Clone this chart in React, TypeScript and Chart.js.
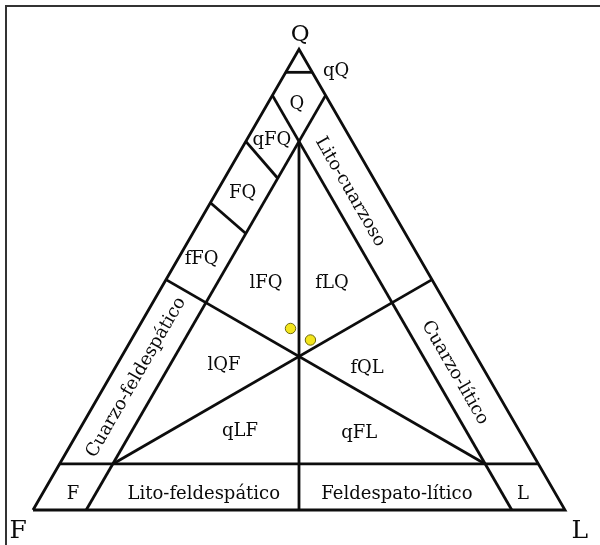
import React, { useEffect, useRef } from "react";
import { Chart, registerables } from "chart.js";

Chart.register(...registerables);

// Ternary composition points are [Q, F, L] in percent.
const triangleVertices: number[][] = [
  [0, 100, 0],
  [0, 0, 100],
  [100, 0, 0],
  [0, 100, 0],
];

const boundarySegments: number[][][] = [
  [[95, 5, 0], [95, 0, 5]], // qQ limit
  [[90, 10, 0], [0, 10, 90]], // F = 10 %
  [[90, 0, 10], [0, 90, 10]], // L = 10 %
  [[10, 90, 0], [10, 0, 90]], // Q = 10 %
  [[80, 10, 10], [0, 50, 50]], // F = L
  [[10, 80, 10], [50, 0, 50]], // Q = L
  [[10, 10, 80], [50, 50, 0]], // Q = F
  [[80, 20, 0], [72, 18, 10]], // Q/(Q+F) = 0.8
  [[66.7, 33.3, 0], [60, 30, 10]], // Q/(Q+F) = 2/3
];

const sampleQ: number[] = [39.4, 36.9];
const sampleF: number[] = [31.9, 29.4];
const sampleL: number[] = [28.7, 33.7];

// Field labels: text, x, y in diagram plane (side = 100)
const fieldLabels: string[] = ["qQ", "Q", "qFQ", "FQ", "fFQ", "lFQ", "fLQ", "lQF", "fQL", "qLF", "qFL", "F", "Lito-feldespático", "Feldespato-lítico", "L"];
const fieldLabelX: number[] = [57.0, 49.6, 44.9, 39.4, 31.7, 43.8, 56.2, 35.9, 62.8, 38.9, 61.3, 7.5, 32.1, 68.4, 92.1];
const fieldLabelY: number[] = [82.5, 76.3, 69.5, 59.6, 47.2, 42.7, 42.7, 27.1, 26.7, 14.7, 14.5, 3.0, 3.0, 3.0, 3.0];

const bandLabels: string[] = ["Lito-cuarzoso", "Cuarzo-lítico", "Cuarzo-feldespático"];
const bandLabelX: number[] = [59.6, 79.3, 19.4];
const bandLabelY: number[] = [59.8, 25.8, 24.9];
const bandLabelAngle: number[] = [60, 60, -60];

const vertexLabels: string[] = ["Q", "F", "L"];
const vertexLabelX: number[] = [50.2, -2.8, 102.8];
const vertexLabelY: number[] = [89.3, -4.1, -4.1];

const H = Math.sqrt(3) / 2;
const toXY = (p: number[]) => ({ x: p[2] + p[0] / 2, y: p[0] * H });

const labelPlugin = {
  id: "ternaryLabels",
  beforeDraw(chart: any) {
    const ctx = chart.ctx;
    ctx.save();
    ctx.fillStyle = "#ffffff";
    ctx.fillRect(0, 0, chart.width, chart.height);
    ctx.strokeStyle = "#333333";
    ctx.lineWidth = 2;
    ctx.beginPath();
    ctx.moveTo(6, chart.height);
    ctx.lineTo(6, 6);
    ctx.lineTo(chart.width, 6);
    ctx.stroke();
    ctx.restore();
  },
  afterDatasetsDraw(chart: any) {
    const ctx = chart.ctx;
    const xs = chart.scales.x;
    const ys = chart.scales.y;
    ctx.save();
    ctx.fillStyle = "#0a0a0a";
    ctx.textAlign = "center";
    ctx.textBaseline = "middle";
    ctx.font = "18px 'DejaVu Serif'";
    fieldLabels.forEach((t, i) => {
      ctx.fillText(t, xs.getPixelForValue(fieldLabelX[i]), ys.getPixelForValue(fieldLabelY[i]));
    });
    ctx.font = "18px 'DejaVu Serif'";
    bandLabels.forEach((t, i) => {
      ctx.save();
      ctx.translate(xs.getPixelForValue(bandLabelX[i]), ys.getPixelForValue(bandLabelY[i]));
      ctx.rotate((bandLabelAngle[i] * Math.PI) / 180);
      ctx.fillText(t, 0, 0);
      ctx.restore();
    });
    vertexLabels.forEach((t, i) => {
      ctx.font = i === 0 ? "23px 'DejaVu Serif'" : "25px 'DejaVu Serif'";
      ctx.fillText(t, xs.getPixelForValue(vertexLabelX[i]), ys.getPixelForValue(vertexLabelY[i]));
    });
    ctx.restore();
  },
};

export default function App() {
  const canvasRef = useRef<HTMLCanvasElement | null>(null);

  useEffect(() => {
    document.body.style.margin = "0";
    const canvas = canvasRef.current;
    if (!canvas) return;

    const lineStyle = {
      showLine: true,
      pointRadius: 0,
      borderColor: "#0d0d0d",
      borderWidth: 2.8,
      fill: false,
      tension: 0,
      order: 1,
      borderCapStyle: "butt",
      borderJoinStyle: "miter",
    };

    const datasets: any[] = [
      {
        label: "Muestras",
        data: sampleQ.map((q, i) => toXY([q, sampleF[i], sampleL[i]])),
        pointRadius: 5.2,
        pointBackgroundColor: "#f3e51c",
        pointBorderColor: "#6f6a10",
        pointBorderWidth: 1,
        showLine: false,
        order: 0,
      },
      { label: "outline", data: triangleVertices.map(toXY), ...lineStyle },
      ...boundarySegments.map((seg, i) => ({ label: "b" + i, data: seg.map(toXY), ...lineStyle })),
    ];

    const unit = 5.32; // px per percent along the base
    const chart = new Chart(canvas, {
      type: "scatter",
      data: { datasets },
      options: {
        animation: false,
        responsive: false,
        events: [],
        layout: { padding: 0, autoPadding: false },
        plugins: { legend: { display: false }, tooltip: { enabled: false } },
        scales: {
          x: { type: "linear", display: false, min: -33 / unit, max: (600 - 33) / unit },
          y: { type: "linear", display: false, min: (510 - 545) / unit, max: 510 / unit },
        },
      },
      plugins: [labelPlugin],
    } as any);

    return () => chart.destroy();
  }, []);

  return <canvas ref={canvasRef} width={600} height={545} style={{ display: "block" }} />;
}
